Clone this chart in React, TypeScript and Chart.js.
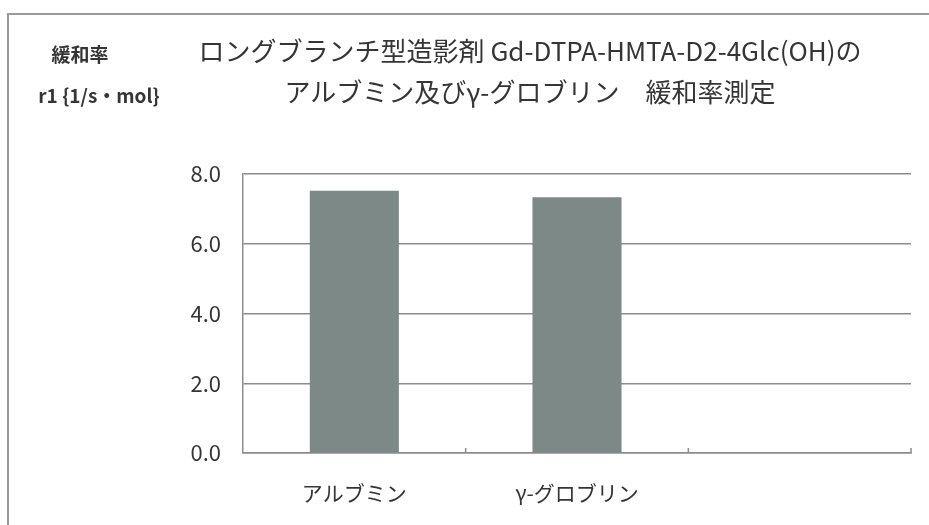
import React, { useEffect, useRef } from "react";
import { Chart, registerables } from "chart.js";

Chart.register(...registerables);

const categories: string[] = ["アルブミン", "γ-グロブリン", ""];
const relaxivity: (number | null)[] = [7.52, 7.33, null];
const yTicks: number[] = [0, 2, 4, 6, 8];
const titleLines: string[] = [
  "ロングブランチ型造影剤 Gd-DTPA-HMTA-D2-4Glc(OH)の",
  "アルブミン及びγ-グロブリン　緩和率測定",
];
const yTitleLines: string[] = ["緩和率", "r1 {1/s・mol}"];

const FONT = "'Noto Sans CJK JP', 'Noto Sans', sans-serif";
const GRID = "#8c8c8c";
const TEXT = "#353535";

const boundaryTicks = {
  id: "boundaryTicks",
  afterDatasetsDraw(chart: any) {
    const x = chart.scales.x;
    const area = chart.chartArea;
    const ctx = chart.ctx;
    const n = chart.data.labels.length;
    ctx.save();
    ctx.strokeStyle = GRID;
    ctx.lineWidth = 1.5;
    for (let i = 0; i < n; i++) {
      const px =
        i < n - 1
          ? (x.getPixelForValue(i) + x.getPixelForValue(i + 1)) / 2
          : area.right;
      ctx.beginPath();
      ctx.moveTo(px, area.bottom);
      ctx.lineTo(px, area.bottom - 5);
      ctx.stroke();
    }
    ctx.restore();
  },
};

export default function App() {
  const ref = useRef<HTMLCanvasElement | null>(null);
  useEffect(() => {
    if (!ref.current) return;
    const chart = new Chart(ref.current, {
      type: "bar",
      data: {
        labels: categories,
        datasets: [
          {
            data: relaxivity as any,
            backgroundColor: "#7d8986",
            borderWidth: 0,
            barPercentage: 0.4,
            categoryPercentage: 1,
          },
        ],
      },
      options: {
        responsive: false,
        animation: false,
        devicePixelRatio: 1,
        layout: { padding: { left: 0, right: 18, top: 174, bottom: 0 } },
        plugins: {
          legend: { display: false },
          tooltip: { enabled: false },
          title: { display: false },
        },
        scales: {
          x: {
            offset: true,
            grid: { display: false, drawTicks: false },
            border: { display: true, color: GRID, width: 1.5 },
            ticks: {
              color: TEXT,
              padding: 27,
              font: { family: FONT, size: 21 },
            },
            afterFit: (s: any) => {
              s.height = 72;
            },
          },
          y: {
            min: 0,
            max: 8,
            afterBuildTicks: (s: any) => {
              s.ticks = yTicks.map((v) => ({ value: v }));
            },
            grid: { color: GRID, lineWidth: 1.5, drawTicks: false },
            border: { display: true, color: GRID, width: 1.5 },
            ticks: {
              color: TEXT,
              padding: 22,
              font: { family: FONT, size: 22 },
              callback: (v: any) => Number(v).toFixed(1),
            },
            afterFit: (s: any) => {
              s.width = 243;
            },
          },
        },
      },
      plugins: [boundaryTicks],
    });
    return () => chart.destroy();
  }, []);

  const yTitleX = [80, 99];
  const yTitleSize = [19, 19];

  return (
    <div
      style={{
        position: "fixed",
        left: 0,
        top: 0,
        width: 929,
        height: 525,
        background: "#ffffff",
        overflow: "hidden",
        fontFamily: FONT,
      }}
    >
      <div
        style={{
          position: "absolute",
          left: 7,
          top: 13,
          width: 940,
          height: 540,
          borderTop: "2px solid #9a9a9a",
          borderLeft: "2px solid #9a9a9a",
        }}
      />
      <canvas
        ref={ref}
        width={929}
        height={525}
        style={{ position: "absolute", left: 0, top: 0 }}
      />
      {titleLines.map((t, i) => (
        <div
          key={"t" + i}
          style={{
            position: "absolute",
            left: 530,
            top: 50 + i * 41,
            transform: "translate(-50%, -50%)",
            whiteSpace: "pre",
            fontSize: 26,
            color: TEXT,
            lineHeight: 1,
          }}
        >
          {t}
        </div>
      ))}
      {yTitleLines.map((t, i) => (
        <div
          key={"y" + i}
          style={{
            position: "absolute",
            left: yTitleX[i],
            top: 53 + i * 41,
            transform: "translate(-50%, -50%)",
            whiteSpace: "pre",
            fontSize: yTitleSize[i],
            fontWeight: "bold",
            color: TEXT,
            lineHeight: 1,
          }}
        >
          {t}
        </div>
      ))}
    </div>
  );
}
